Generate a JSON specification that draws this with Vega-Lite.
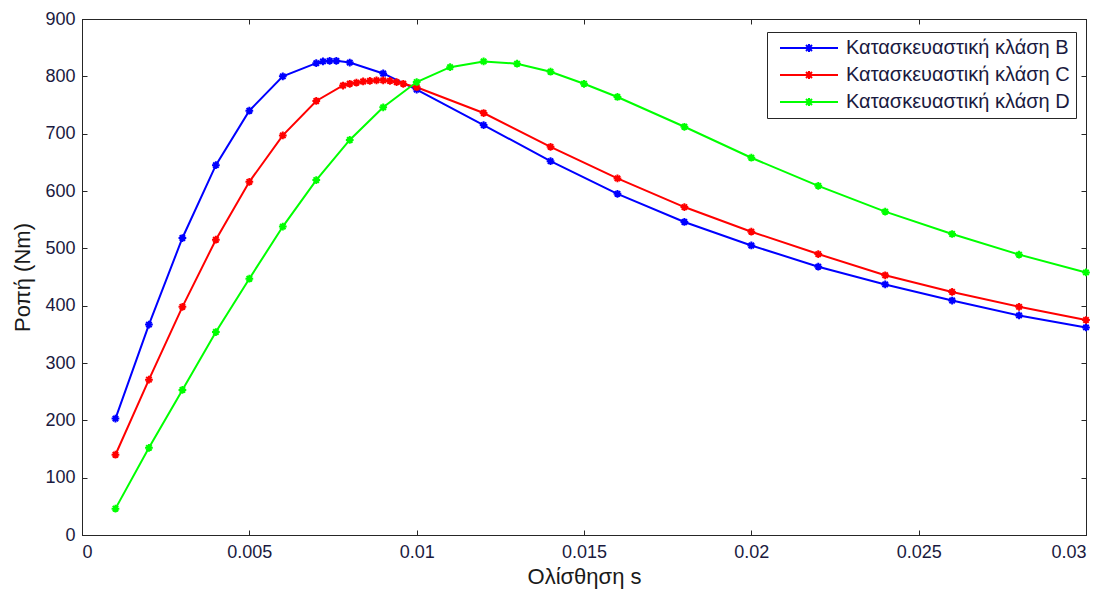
{
  "$schema": "https://vega.github.io/schema/vega-lite/v6.json",
  "width": 1004,
  "height": 516,
  "autosize": {"type": "none"},
  "padding": {"left": 82, "top": 19, "right": 21, "bottom": 57},
  "background": "white",
  "config": {
    "view": {"stroke": "black", "strokeWidth": 1},
    "font": "Liberation Sans",
    "axis": {
      "grid": false,
      "domainColor": "#262626",
      "tickColor": "#262626",
      "tickSize": -5,
      "labelColor": "#1a1a40",
      "labelFont": "Liberation Sans",
      "labelFontSize": 18,
      "titleFont": "Liberation Sans",
      "titleFontSize": 22,
      "titleFontWeight": "normal",
      "titleColor": "#1a1a1a"
    },
    "legend": {
      "orient": "none",
      "legendX": 685,
      "legendY": 13,
      "strokeColor": "#262626",
      "fillColor": "white",
      "padding": 6,
      "labelFont": "Liberation Sans",
      "labelFontSize": 20,
      "labelColor": "#1a1a40",
      "labelLimit": 400,
      "symbolType": "M-5.8,0L5.8,0M-0.8,0L0.8,0M0,-0.8L0,0.8M-0.6,-0.6L0.6,0.6M-0.6,0.6L0.6,-0.6",
      "symbolSize": 100,
      "symbolStrokeWidth": 2,
      "symbolOffset": 26,
      "rowPadding": 7,
      "labelOffset": 27,
      "title": null
    }
  },
  "data": {
    "values": [
      {"s": 0.001, "T": 203, "c": "Κατασκευαστική κλάση B"},
      {"s": 0.002, "T": 367, "c": "Κατασκευαστική κλάση B"},
      {"s": 0.003, "T": 518, "c": "Κατασκευαστική κλάση B"},
      {"s": 0.004, "T": 645, "c": "Κατασκευαστική κλάση B"},
      {"s": 0.005, "T": 740, "c": "Κατασκευαστική κλάση B"},
      {"s": 0.006, "T": 800, "c": "Κατασκευαστική κλάση B"},
      {"s": 0.007, "T": 823, "c": "Κατασκευαστική κλάση B"},
      {"s": 0.0072, "T": 826, "c": "Κατασκευαστική κλάση B"},
      {"s": 0.0074, "T": 827, "c": "Κατασκευαστική κλάση B"},
      {"s": 0.0076, "T": 827, "c": "Κατασκευαστική κλάση B"},
      {"s": 0.008, "T": 824, "c": "Κατασκευαστική κλάση B"},
      {"s": 0.009, "T": 805, "c": "Κατασκευαστική κλάση B"},
      {"s": 0.010, "T": 777, "c": "Κατασκευαστική κλάση B"},
      {"s": 0.012, "T": 715, "c": "Κατασκευαστική κλάση B"},
      {"s": 0.014, "T": 652, "c": "Κατασκευαστική κλάση B"},
      {"s": 0.016, "T": 595, "c": "Κατασκευαστική κλάση B"},
      {"s": 0.018, "T": 546, "c": "Κατασκευαστική κλάση B"},
      {"s": 0.020, "T": 505, "c": "Κατασκευαστική κλάση B"},
      {"s": 0.022, "T": 468, "c": "Κατασκευαστική κλάση B"},
      {"s": 0.024, "T": 437, "c": "Κατασκευαστική κλάση B"},
      {"s": 0.026, "T": 409, "c": "Κατασκευαστική κλάση B"},
      {"s": 0.028, "T": 383, "c": "Κατασκευαστική κλάση B"},
      {"s": 0.030, "T": 362, "c": "Κατασκευαστική κλάση B"},
      {"s": 0.001, "T": 140, "c": "Κατασκευαστική κλάση C"},
      {"s": 0.002, "T": 271, "c": "Κατασκευαστική κλάση C"},
      {"s": 0.003, "T": 398, "c": "Κατασκευαστική κλάση C"},
      {"s": 0.004, "T": 515, "c": "Κατασκευαστική κλάση C"},
      {"s": 0.005, "T": 616, "c": "Κατασκευαστική κλάση C"},
      {"s": 0.006, "T": 697, "c": "Κατασκευαστική κλάση C"},
      {"s": 0.007, "T": 757, "c": "Κατασκευαστική κλάση C"},
      {"s": 0.0078, "T": 784, "c": "Κατασκευαστική κλάση C"},
      {"s": 0.008, "T": 787, "c": "Κατασκευαστική κλάση C"},
      {"s": 0.0082, "T": 789, "c": "Κατασκευαστική κλάση C"},
      {"s": 0.0084, "T": 791, "c": "Κατασκευαστική κλάση C"},
      {"s": 0.0086, "T": 792, "c": "Κατασκευαστική κλάση C"},
      {"s": 0.0088, "T": 793, "c": "Κατασκευαστική κλάση C"},
      {"s": 0.009, "T": 793, "c": "Κατασκευαστική κλάση C"},
      {"s": 0.0092, "T": 792, "c": "Κατασκευαστική κλάση C"},
      {"s": 0.0094, "T": 790, "c": "Κατασκευαστική κλάση C"},
      {"s": 0.0096, "T": 787, "c": "Κατασκευαστική κλάση C"},
      {"s": 0.010, "T": 781, "c": "Κατασκευαστική κλάση C"},
      {"s": 0.012, "T": 736, "c": "Κατασκευαστική κλάση C"},
      {"s": 0.014, "T": 677, "c": "Κατασκευαστική κλάση C"},
      {"s": 0.016, "T": 622, "c": "Κατασκευαστική κλάση C"},
      {"s": 0.018, "T": 572, "c": "Κατασκευαστική κλάση C"},
      {"s": 0.020, "T": 529, "c": "Κατασκευαστική κλάση C"},
      {"s": 0.022, "T": 490, "c": "Κατασκευαστική κλάση C"},
      {"s": 0.024, "T": 453, "c": "Κατασκευαστική κλάση C"},
      {"s": 0.026, "T": 424, "c": "Κατασκευαστική κλάση C"},
      {"s": 0.028, "T": 398, "c": "Κατασκευαστική κλάση C"},
      {"s": 0.030, "T": 375, "c": "Κατασκευαστική κλάση C"},
      {"s": 0.001, "T": 46, "c": "Κατασκευαστική κλάση D"},
      {"s": 0.002, "T": 152, "c": "Κατασκευαστική κλάση D"},
      {"s": 0.003, "T": 253, "c": "Κατασκευαστική κλάση D"},
      {"s": 0.004, "T": 354, "c": "Κατασκευαστική κλάση D"},
      {"s": 0.005, "T": 447, "c": "Κατασκευαστική κλάση D"},
      {"s": 0.006, "T": 538, "c": "Κατασκευαστική κλάση D"},
      {"s": 0.007, "T": 619, "c": "Κατασκευαστική κλάση D"},
      {"s": 0.008, "T": 689, "c": "Κατασκευαστική κλάση D"},
      {"s": 0.009, "T": 746, "c": "Κατασκευαστική κλάση D"},
      {"s": 0.010, "T": 790, "c": "Κατασκευαστική κλάση D"},
      {"s": 0.011, "T": 816, "c": "Κατασκευαστική κλάση D"},
      {"s": 0.012, "T": 826, "c": "Κατασκευαστική κλάση D"},
      {"s": 0.013, "T": 822, "c": "Κατασκευαστική κλάση D"},
      {"s": 0.014, "T": 808, "c": "Κατασκευαστική κλάση D"},
      {"s": 0.015, "T": 787, "c": "Κατασκευαστική κλάση D"},
      {"s": 0.016, "T": 764, "c": "Κατασκευαστική κλάση D"},
      {"s": 0.018, "T": 712, "c": "Κατασκευαστική κλάση D"},
      {"s": 0.020, "T": 658, "c": "Κατασκευαστική κλάση D"},
      {"s": 0.022, "T": 609, "c": "Κατασκευαστική κλάση D"},
      {"s": 0.024, "T": 564, "c": "Κατασκευαστική κλάση D"},
      {"s": 0.026, "T": 525, "c": "Κατασκευαστική κλάση D"},
      {"s": 0.028, "T": 489, "c": "Κατασκευαστική κλάση D"},
      {"s": 0.030, "T": 458, "c": "Κατασκευαστική κλάση D"}
    ]
  },
  "layer": [
    {
      "mark": {"type": "line", "strokeWidth": 2, "point": {"shape": "M-1,0L1,0M0,-1L0,1M-0.7,-0.7L0.7,0.7M-0.7,0.7L0.7,-0.7", "filled": false, "size": 60, "strokeWidth": 2}},
      "encoding": {
        "x": {
          "field": "s", "type": "quantitative",
          "scale": {"domain": [0, 0.03], "nice": false, "zero": false},
          "axis": {"title": "Ολίσθηση s", "values": [0, 0.005, 0.01, 0.015, 0.02, 0.025, 0.03], "format": "~g", "labelPadding": 13, "titlePadding": 5}
        },
        "y": {
          "field": "T", "type": "quantitative",
          "scale": {"domain": [0, 900], "nice": false},
          "axis": {"title": "Ροπή (Nm)", "values": [0, 100, 200, 300, 400, 500, 600, 700, 800, 900], "labelPadding": 12, "titlePadding": 10}
        },
        "color": {
          "field": "c", "type": "nominal",
          "scale": {"domain": ["Κατασκευαστική κλάση B", "Κατασκευαστική κλάση C", "Κατασκευαστική κλάση D"], "range": ["#0000ff", "#ff0000", "#00ff00"]}
        }
      }
    },
    {
      "mark": {"type": "point", "opacity": 0},
      "encoding": {
        "x": {"field": "s", "type": "quantitative", "axis": {"orient": "top", "labels": false, "title": null, "values": [0, 0.005, 0.01, 0.015, 0.02, 0.025, 0.03]}},
        "y": {"field": "T", "type": "quantitative", "axis": {"orient": "right", "labels": false, "title": null, "values": [0, 100, 200, 300, 400, 500, 600, 700, 800, 900]}}
      }
    }
  ],
  "resolve": {"axis": {"x": "independent", "y": "independent"}}
}
